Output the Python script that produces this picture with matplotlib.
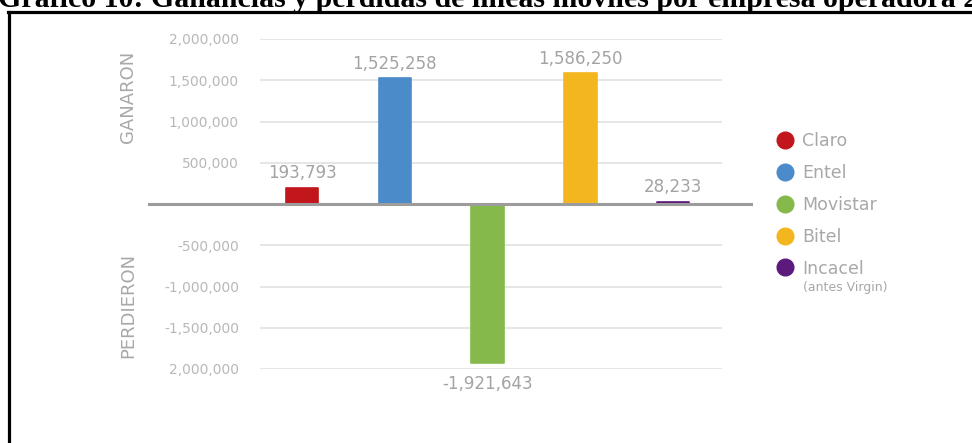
import matplotlib
matplotlib.use("Agg")
import matplotlib.pyplot as plt
from matplotlib.lines import Line2D

# data
empresas = ["Claro", "Entel", "Movistar", "Bitel", "Incacel"]
lineas = [193793, 1525258, -1921643, 1586250, 28233]
colores = ["#c2161d", "#4b8bca", "#86b94b", "#f3b61f", "#5b1a7c"]
ticks = [2000000, 1500000, 1000000, 500000, -500000, -1000000, -1500000, -2000000]
tick_labels = ["2,000,000", "1,500,000", "1,000,000", "500,000",
               "-500,000", "-1,000,000", "-1,500,000", "2,000,000"]
titulo = "Gráfico 10: Ganancias y pérdidas de líneas móviles por empresa operadora 2017"

W, H = 972, 443
fig = plt.figure(figsize=(W / 100, H / 100), dpi=100)
fig.patch.set_facecolor("white")

# axes placed in pixel terms
ax = fig.add_axes([148 / W, (H - 369) / H, (753 - 148) / W, 330 / H])
ax.set_xlim(-1.66, 4.86)
ax.set_ylim(-2000000, 2000000)

x = list(range(len(empresas)))
ax.hlines(ticks, -0.453, 4.53, color="#e4e4e4", lw=1.3, zorder=0)
ax.axhline(0, color="#9c9c9c", lw=2.2, zorder=3)
ax.bar(x, lineas, width=0.35, color=colores, edgecolor=colores, lw=1.2,
       joinstyle="round", zorder=2)

for xi, v in zip(x, lineas):
    if v >= 0:
        ax.annotate(f"{v:,}", (xi, v), xytext=(0, 4), textcoords="offset points",
                    ha="center", va="bottom", fontsize=12, color="#a3a3a3")
    else:
        ax.annotate(f"{v:,}", (xi, v), xytext=(0, -9), textcoords="offset points",
                    ha="center", va="top", fontsize=12, color="#a3a3a3")

ax.set_yticks(ticks)
ax.set_yticklabels(tick_labels)
ax.tick_params(axis="y", length=0, pad=-65.5, labelsize=10, labelcolor="#b8b8b8")
ax.set_xticks([])
for s in ax.spines.values():
    s.set_visible(False)
ax.patch.set_alpha(0)

fig.text(128 / W, (H - 97) / H, "GANARON", rotation=90, ha="center", va="center",
         fontsize=13, color="#a8a8a8")
fig.text(128 / W, (H - 305) / H, "PERDIERON", rotation=90, ha="center", va="center",
         fontsize=13, color="#a8a8a8")

# legend
handles = [Line2D([], [], marker="o", ls="", ms=12, color=c) for c in colores]
leg = fig.legend(handles, empresas, loc="upper left",
                 bbox_to_anchor=(776 / W, (H - 132) / H), frameon=False,
                 fontsize=12.5, labelcolor="#a8a8a8", handlelength=1.0,
                 handletextpad=0.5, labelspacing=0.8, borderpad=0, borderaxespad=0)
fig.text(803 / W, (H - 287) / H, "(antes Virgin)", ha="left", va="center",
         fontsize=9, color="#a8a8a8")

# page title and frame from the document
fig.text(-0.002, (H - 7) / H, titulo, ha="left", va="baseline",
         fontsize=21.5, fontweight="bold", family="Liberation Serif")
fig.add_artist(Line2D([9 / W, 9 / W], [0, (H - 12) / H], color="black", lw=2.3))
fig.add_artist(Line2D([8 / W, 1], [(H - 12) / H, (H - 12) / H], color="black", lw=2.3))

fig.savefig("out.png", dpi=100)
